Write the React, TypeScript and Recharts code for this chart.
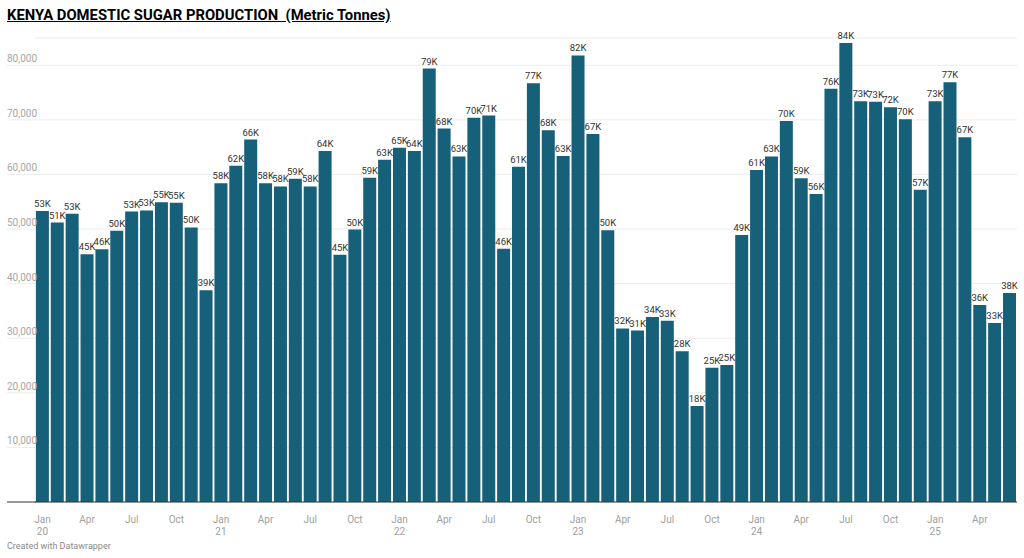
import React from "react";
import { BarChart, Bar, XAxis, YAxis, CartesianGrid, LabelList } from "recharts";

const categories = [
  "Jan 20", "Feb 20", "Mar 20", "Apr 20", "May 20", "Jun 20", "Jul 20", "Aug 20", "Sep 20", "Oct 20", "Nov 20", "Dec 20",
  "Jan 21", "Feb 21", "Mar 21", "Apr 21", "May 21", "Jun 21", "Jul 21", "Aug 21", "Sep 21", "Oct 21", "Nov 21", "Dec 21",
  "Jan 22", "Feb 22", "Mar 22", "Apr 22", "May 22", "Jun 22", "Jul 22", "Aug 22", "Sep 22", "Oct 22", "Nov 22", "Dec 22",
  "Jan 23", "Feb 23", "Mar 23", "Apr 23", "May 23", "Jun 23", "Jul 23", "Aug 23", "Sep 23", "Oct 23", "Nov 23", "Dec 23",
  "Jan 24", "Feb 24", "Mar 24", "Apr 24", "May 24", "Jun 24", "Jul 24", "Aug 24", "Sep 24", "Oct 24", "Nov 24", "Dec 24",
  "Jan 25", "Feb 25", "Mar 25", "Apr 25", "May 25", "Jun 25",
];

const production = [
  53300, 51200, 52800, 45400, 46300, 49700, 53200, 53400, 54900, 54800, 50300, 38800,
  58400, 61600, 66400, 58400, 57800, 59200, 57800, 64300, 45300, 49900, 59400, 62700,
  64900, 64300, 79400, 68400, 63300, 70400, 70800, 46400, 61400, 76700, 68100, 63400,
  81800, 67400, 49800, 31800, 31400, 33900, 33200, 27600, 17600, 24600, 25100, 48900,
  60800, 63300, 69800, 59300, 56400, 75700, 84100, 73400, 73300, 72300, 70100, 57200,
  73400, 76900, 66800, 36100, 32800, 38300,
];

const yTicks = [0, 10000, 20000, 30000, 40000, 50000, 60000, 70000, 80000];
const xTickMonths = ["Jan", "Apr", "Jul", "Oct"];

const data = categories.map((c, i) => ({ month: c, value: production[i] }));

const FONT = "Roboto, 'Noto Sans', sans-serif";
const BAR_COLOR = "#16607a";
const GRID_COLOR = "#ececec";

const YTick = (props: any) => {
  const { y, payload } = props;
  const v = payload.value as number;
  if (v === 0) {
    return <line x1={7} x2={36} y1={y} y2={y} stroke="#333" strokeWidth={1} />;
  }
  return (
    <g>
      <line x1={7} x2={36} y1={y} y2={y} stroke={GRID_COLOR} strokeWidth={1} />
      <text x={7} y={y - 3} fontSize={10} fill="#a6a6a6" fontFamily={FONT} textAnchor="start">
        {v.toLocaleString("en-US")}
      </text>
    </g>
  );
};

const XTick = (props: any) => {
  const { x, y, payload } = props;
  const [m, yr] = String(payload.value).split(" ");
  if (!xTickMonths.includes(m)) return null;
  return (
    <g>
      <text x={x} y={y + 19} fontSize={10} fill="#a0a0a0" fontFamily={FONT} textAnchor="middle">
        {m}
      </text>
      {m === "Jan" && (
        <text x={x} y={y + 31} fontSize={10} fill="#a0a0a0" fontFamily={FONT} textAnchor="middle">
          {yr}
        </text>
      )}
    </g>
  );
};

export default function App() {
  return (
    <div style={{ position: "absolute", left: 0, top: 0, width: 1024, height: 558, background: "#fff" }}>
      <div
        style={{
          position: "absolute",
          left: 7,
          top: 6,
          fontFamily: FONT,
          fontWeight: 700,
          fontSize: 14.8,
          color: "#000",
          textDecoration: "underline",
          whiteSpace: "pre",
          lineHeight: "18px",
        }}
      >
        {"KENYA DOMESTIC SUGAR PRODUCTION  (Metric Tonnes)"}
      </div>
      <div style={{ position: "absolute", left: 0, top: 0 }}>
        <BarChart
          width={1024}
          height={558}
          data={data}
          margin={{ top: 38, right: 7, bottom: 26, left: 0 }}
          barCategoryGap="6%"
        >
          <CartesianGrid horizontal vertical={false} stroke={GRID_COLOR} strokeDasharray="" />
          <YAxis
            width={35}
            domain={[0, 85000]}
            ticks={yTicks}
            axisLine={false}
            tickLine={false}
            tick={<YTick />}
            interval={0}
          />
          <XAxis
            dataKey="month"
            height={30}
            interval={0}
            tickLine={false}
            tickSize={0}
            axisLine={{ stroke: "#333", strokeWidth: 1 }}
            tick={<XTick />}
          />
          <Bar dataKey="value" fill={BAR_COLOR} isAnimationActive={false}>
            <LabelList
              dataKey="value"
              position="top"
              offset={4}
              fontSize={9.5}
              fill="#333"
              fontFamily={FONT}
              formatter={(v: any) => `${Math.round(Number(v) / 1000)}K`}
            />
          </Bar>
        </BarChart>
      </div>
      <div
        style={{
          position: "absolute",
          left: 7,
          top: 541,
          fontFamily: FONT,
          fontSize: 9,
          color: "#8a8a8a",
        }}
      >
        Created with Datawrapper
      </div>
    </div>
  );
}
